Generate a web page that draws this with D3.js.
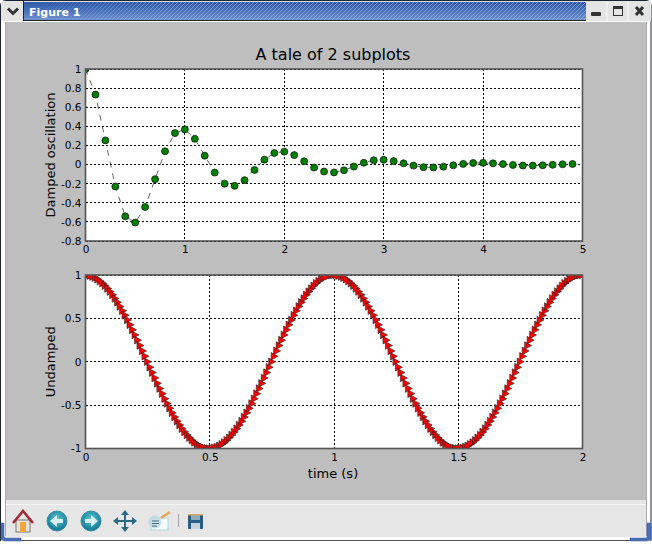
<!DOCTYPE html>
<html>
<head>
<meta charset="utf-8">
<title>Figure 1</title>
<script src="https://cdn.jsdelivr.net/npm/d3@7"></script>
<style>
html, body { margin: 0; padding: 0; background: #fff; overflow: hidden; }
svg { display: block; }
text { font-family: "DejaVu Sans", sans-serif; fill: #000; }
</style>
</head>
<body>
<div id="chart"></div>
<script>
const TITLE = 'A tale of 2 subplots';
const WINDOW_TITLE = 'Figure 1';

const dampedX = [0,0.1,0.2,0.3,0.4,0.5,0.6,0.7,0.8,0.9,1,1.1,1.2,1.3,1.4,1.5,1.6,1.7,1.8,1.9,2,2.1,2.2,2.3,2.4,2.5,2.6,2.7,2.8,2.9,3,3.1,3.2,3.3,3.4,3.5,3.6,3.7,3.8,3.9,4,4.1,4.2,4.3,4.4,4.5,4.6,4.7,4.8,4.9];
const dampedY = [1,0.732,0.253,-0.229,-0.542,-0.607,-0.444,-0.153,0.139,0.329,0.368,0.269,0.093,-0.084,-0.2,-0.223,-0.163,-0.056,0.051,0.121,0.135,0.099,0.034,-0.031,-0.073,-0.082,-0.06,-0.021,0.019,0.045,0.05,0.036,0.013,-0.011,-0.027,-0.03,-0.022,-0.008,0.007,0.016,0.018,0.013,0.005,-0.004,-0.01,-0.011,-0.008,-0.003,0.003,0.006];
const dampedXTicks = [0,1,2,3,4,5];
const dampedYTicks = [1,0.8,0.6,0.4,0.2,0,-0.2,-0.4,-0.6,-0.8];

// sampled every 0.01 s
const undampedStep = 0.01;
const undampedY = [
1,0.998,0.992,0.982,0.969,0.951,0.93,0.905,0.876,0.844,0.809,0.771,0.729,0.685,0.637,0.588,0.536,0.482,0.426,0.368,0.309,0.249,0.187,0.125,0.063,
0,-0.063,-0.125,-0.187,-0.249,-0.309,-0.368,-0.426,-0.482,-0.536,-0.588,-0.637,-0.685,-0.729,-0.771,-0.809,-0.844,-0.876,-0.905,-0.93,-0.951,-0.969,-0.982,-0.992,-0.998,
-1,-0.998,-0.992,-0.982,-0.969,-0.951,-0.93,-0.905,-0.876,-0.844,-0.809,-0.771,-0.729,-0.685,-0.637,-0.588,-0.536,-0.482,-0.426,-0.368,-0.309,-0.249,-0.187,-0.125,-0.063,
0,0.063,0.125,0.187,0.249,0.309,0.368,0.426,0.482,0.536,0.588,0.637,0.685,0.729,0.771,0.809,0.844,0.876,0.905,0.93,0.951,0.969,0.982,0.992,0.998,
1,0.998,0.992,0.982,0.969,0.951,0.93,0.905,0.876,0.844,0.809,0.771,0.729,0.685,0.637,0.588,0.536,0.482,0.426,0.368,0.309,0.249,0.187,0.125,0.063,
0,-0.063,-0.125,-0.187,-0.249,-0.309,-0.368,-0.426,-0.482,-0.536,-0.588,-0.637,-0.685,-0.729,-0.771,-0.809,-0.844,-0.876,-0.905,-0.93,-0.951,-0.969,-0.982,-0.992,-0.998,
-1,-0.998,-0.992,-0.982,-0.969,-0.951,-0.93,-0.905,-0.876,-0.844,-0.809,-0.771,-0.729,-0.685,-0.637,-0.588,-0.536,-0.482,-0.426,-0.368,-0.309,-0.249,-0.187,-0.125,-0.063,
0,0.063,0.125,0.187,0.249,0.309,0.368,0.426,0.482,0.536,0.588,0.637,0.685,0.729,0.771,0.809,0.844,0.876,0.905,0.93,0.951,0.969,0.982,0.992,0.998,
1];
const undampedXTicks = [0,0.5,1,1.5,2];
const undampedYTicks = [1,0.5,0,-0.5,-1];

// tick labels use a plain hyphen, not the typographic minus
const tickText = d => String(d);

const W = 652, H = 544;
const svg = d3.select('#chart').append('svg').attr('width', W).attr('height', H);
const defs = svg.append('defs');

drawWindow();
drawDamped();
drawUndamped();
drawToolbar();

// ── Window decoration ──
function drawWindow() {
    const grad = defs.append('linearGradient').attr('id', 'barGrad').attr('x1', 0).attr('x2', 0).attr('y1', 0).attr('y2', 1);
    grad.append('stop').attr('offset', 0).attr('stop-color', '#2f5aa8');
    grad.append('stop').attr('offset', 0.5).attr('stop-color', '#4a72bd');
    grad.append('stop').attr('offset', 1).attr('stop-color', '#6f93d0');

    const hatch = defs.append('pattern').attr('id', 'barHatch').attr('width', 4).attr('height', 4)
        .attr('patternUnits', 'userSpaceOnUse');
    hatch.append('path').attr('d', 'M-1,1 L1,-1 M0,4 L4,0 M3,5 L5,3')
        .attr('stroke', '#a8bde0').attr('stroke-width', 1).attr('stroke-opacity', 0.55);

    const fade = defs.append('linearGradient').attr('id', 'hatchFade');
    fade.append('stop').attr('offset', 0).attr('stop-color', '#fff').attr('stop-opacity', 0);
    fade.append('stop').attr('offset', 0.25).attr('stop-color', '#fff').attr('stop-opacity', 1);
    defs.append('mask').attr('id', 'hatchMask').attr('maskUnits', 'userSpaceOnUse')
        .attr('x', 0).attr('y', 0).attr('width', W).attr('height', 22)
        .append('rect').attr('x', 24).attr('y', 0).attr('width', 562).attr('height', 22).attr('fill', 'url(#hatchFade)');

    svg.append('rect').attr('width', W).attr('height', H).attr('fill', '#fff');
    svg.append('path').attr('d', `M0.5,${H - 3} L0.5,6 Q0.5,0.5 6,0.5 L${W - 6},0.5 Q${W - 1},0.5 ${W - 1},6 L${W - 1},${H - 3}`)
        .attr('fill', 'none').attr('stroke', '#1c2433').attr('stroke-width', 1);

    // title bar
    svg.append('rect').attr('x', 1).attr('y', 1).attr('width', W - 2).attr('height', 20).attr('fill', '#e4e4e4');
    svg.append('rect').attr('x', 24).attr('y', 2).attr('width', 562).attr('height', 18).attr('fill', 'url(#barGrad)');
    svg.append('rect').attr('x', 24).attr('y', 2).attr('width', 562).attr('height', 18)
        .attr('fill', 'url(#barHatch)').attr('mask', 'url(#hatchMask)');
    svg.append('line').attr('x1', 23.5).attr('x2', 23.5).attr('y1', 1).attr('y2', 21).attr('stroke', '#222');
    svg.append('line').attr('x1', 24).attr('x2', 586).attr('y1', 20.5).attr('y2', 20.5).attr('stroke', '#222');
    svg.append('text').attr('x', 29).attr('y', 16).text(WINDOW_TITLE)
        .style('font-size', '11px').style('font-weight', 700).style('fill', '#fff');

    // window menu and min / max / close buttons
    svg.append('path').attr('d', 'M8,8.5 L13,13.5 L18,8.5').attr('fill', 'none')
        .attr('stroke', '#333').attr('stroke-width', 3);
    [607, 628].forEach(x => svg.append('line').attr('x1', x).attr('x2', x).attr('y1', 1).attr('y2', 21).attr('stroke', '#f8f8f8'));
    svg.append('rect').attr('x', 591).attr('y', 12).attr('width', 10).attr('height', 4).attr('rx', 1).attr('fill', '#333');
    svg.append('rect').attr('x', 613.5).attr('y', 6.5).attr('width', 9).attr('height', 9).attr('fill', 'none').attr('stroke', '#333');
    svg.append('rect').attr('x', 613).attr('y', 6).attr('width', 10).attr('height', 3).attr('fill', '#333');
    svg.append('path').attr('d', 'M636,7 L643,15 M643,7 L636,15').attr('stroke', '#333').attr('stroke-width', 3);

    // figure canvas
    svg.append('rect').attr('x', 6).attr('y', 22).attr('width', 640).attr('height', 478).attr('fill', '#bebebe');
    svg.append('line').attr('x1', 5.5).attr('x2', 5.5).attr('y1', 22).attr('y2', 536).attr('stroke', '#ababab');
    svg.append('line').attr('x1', 646.5).attr('x2', 646.5).attr('y1', 22).attr('y2', 536).attr('stroke', '#ababab');

    // corner handles
    svg.append('path').attr('d', `M1,523 L1,538 Q1,541 6,541 L21,541 L21,538 L6,538 Q4,538 4,536 L4,523 Z`)
        .attr('fill', '#4a6fb8').attr('stroke', '#3a5a98').attr('stroke-width', 0.5);
    svg.append('path').attr('d', `M${W - 1},523 L${W - 1},538 Q${W - 1},541 ${W - 6},541 L${W - 22},541 L${W - 22},538 L${W - 6},538 Q${W - 5},538 ${W - 5},536 L${W - 5},523 Z`)
        .attr('fill', '#4a6fb8').attr('stroke', '#3a5a98').attr('stroke-width', 0.5);
    svg.append('line').attr('x1', 21).attr('x2', W - 22).attr('y1', 540.5).attr('y2', 540.5).attr('stroke', '#555');
    svg.append('rect').attr('x', 0).attr('y', 542).attr('width', W).attr('height', 2).attr('fill', '#fff');
}

// ── Shared axes box ──
function drawFrame(id, x, y, xTicks, yTicks, yLabel) {
    const [x0, x1] = x.range();
    const [y1, y0] = y.range();

    svg.append('rect').attr('x', x0).attr('y', y0).attr('width', x1 - x0).attr('height', y1 - y0).attr('fill', '#fff');
    defs.append('clipPath').attr('id', id).append('rect')
        .attr('x', x0).attr('y', y0).attr('width', x1 - x0).attr('height', y1 - y0);

    const grid = svg.append('g').attr('stroke', '#000').attr('stroke-width', 1).attr('stroke-dasharray', '2,2').attr('shape-rendering', 'crispEdges');
    xTicks.forEach(t => grid.append('line').attr('x1', x(t)).attr('x2', x(t)).attr('y1', y0).attr('y2', y1));
    yTicks.forEach(t => grid.append('line').attr('x1', x0).attr('x2', x1).attr('y1', y(t)).attr('y2', y(t)));

    svg.append('text').attr('transform', 'rotate(-90)')
        .attr('x', -(y0 + y1) / 2).attr('y', 55)
        .attr('text-anchor', 'middle').style('font-size', '13px').text(yLabel);

    const xAxis = svg.append('g').attr('transform', `translate(0,${y1})`)
        .call(d3.axisBottom(x).tickValues(xTicks).tickSize(0).tickPadding(5).tickFormat(tickText));
    const yAxis = svg.append('g').attr('transform', `translate(${x0},0)`)
        .call(d3.axisLeft(y).tickValues(yTicks).tickSize(0).tickPadding(4).tickFormat(tickText));
    [xAxis, yAxis].forEach(a => {
        a.select('.domain').remove();
        a.selectAll('text').style('font-family', '"DejaVu Sans", sans-serif').style('font-size', '10.5px');
    });
}

function drawBorder(x, y) {
    const [x0, x1] = x.range();
    const [y1, y0] = y.range();
    svg.append('rect').attr('x', x0).attr('y', y0).attr('width', x1 - x0).attr('height', y1 - y0)
        .attr('fill', 'none').attr('stroke', '#555').attr('stroke-width', 1.6);
}

// ── Damped oscillation ──
function drawDamped() {
    const x = d3.scaleLinear().domain([0, 5]).range([85.5, 582.5]);
    const y = d3.scaleLinear().domain([-0.8, 1]).range([241, 69]);
    drawFrame('clipDamped', x, y, dampedXTicks, dampedYTicks, 'Damped oscillation');

    svg.append('text').attr('x', 333).attr('y', 60).attr('text-anchor', 'middle')
        .style('font-size', '16px').text(TITLE);

    const plot = svg.append('g').attr('clip-path', 'url(#clipDamped)');
    const line = d3.line().x((d, i) => x(dampedX[i])).y(d => y(d));
    plot.append('path').attr('d', line(dampedY)).attr('fill', 'none')
        .attr('stroke', '#222').attr('stroke-width', 0.7).attr('stroke-dasharray', '6,6');
    plot.selectAll('circle').data(dampedY).enter().append('circle')
        .attr('cx', (d, i) => x(dampedX[i])).attr('cy', d => y(d)).attr('r', 3.5)
        .attr('fill', '#008000').attr('stroke', '#111').attr('stroke-width', 0.7);

    drawBorder(x, y);
}

// ── Undamped ──
function drawUndamped() {
    const x = d3.scaleLinear().domain([0, 2]).range([85.5, 582.5]);
    const y = d3.scaleLinear().domain([-1, 1]).range([448.5, 275]);
    drawFrame('clipUndamped', x, y, undampedXTicks, undampedYTicks, 'Undamped');

    svg.append('text').attr('x', 333).attr('y', 478).attr('text-anchor', 'middle')
        .style('font-size', '13px').text('time (s)');

    const plot = svg.append('g').attr('clip-path', 'url(#clipUndamped)');
    const tri = 'M-3.2,-3.8 L3.8,0 L-3.2,3.8 Z';
    plot.selectAll('path').data(undampedY).enter().append('path')
        .attr('d', tri)
        .attr('transform', (d, i) => `translate(${x(i * undampedStep)},${y(d)})`)
        .attr('fill', '#f00').attr('stroke', '#222').attr('stroke-width', 0.6);

    drawBorder(x, y);
}

// ── Toolbar ──
function drawToolbar() {
    svg.append('rect').attr('x', 6).attr('y', 500).attr('width', 640).attr('height', 37).attr('fill', '#e6e6e6');
    svg.append('line').attr('x1', 6).attr('x2', 646).attr('y1', 504.5).attr('y2', 504.5).attr('stroke', '#f4f4f4');

    const g = svg.append('g');
    // home
    g.append('rect').attr('x', 16).attr('y', 520).attr('width', 14).attr('height', 12).attr('fill', '#e8e4dc').attr('stroke', '#777');
    g.append('rect').attr('x', 20).attr('y', 522).attr('width', 6).attr('height', 10).attr('fill', '#f0a840');
    g.append('path').attr('d', 'M13,523 L23,511 L33,523').attr('fill', 'none').attr('stroke', '#a02838').attr('stroke-width', 2.6);

    // back / forward
    const ball = defs.append('radialGradient').attr('id', 'ball').attr('cx', 0.5).attr('cy', 0.4).attr('r', 0.6);
    ball.append('stop').attr('offset', 0).attr('stop-color', '#5cc8d8');
    ball.append('stop').attr('offset', 1).attr('stop-color', '#0f7490');
    [57, 91].forEach(cx => g.append('circle').attr('cx', cx).attr('cy', 521).attr('r', 10).attr('fill', 'url(#ball)').attr('stroke', '#3b8ca4'));
    g.append('path').attr('d', 'M50,521 L57,515 L57,519 L63,519 L63,523 L57,523 L57,527 Z').attr('fill', '#d8f0f4');
    g.append('path').attr('d', 'M98,521 L91,515 L91,519 L85,519 L85,523 L91,523 L91,527 Z').attr('fill', '#d8f0f4');

    // pan
    g.append('path').attr('d', 'M125,512 L125,530 M115,521 L135,521').attr('stroke', '#2a6a88').attr('stroke-width', 2);
    g.append('path').attr('d', 'M125,510 L121,515 L129,515 Z M125,532 L121,527 L129,527 Z M113,521 L118,517 L118,525 Z M137,521 L132,517 L132,525 Z').attr('fill', '#2a6a88');

    // subplots
    g.append('rect').attr('x', 151).attr('y', 518).attr('width', 17).attr('height', 12).attr('fill', '#f4fafc').attr('stroke', '#a8d8e4');
    g.append('circle').attr('cx', 155).attr('cy', 522).attr('r', 6.5).attr('fill', '#bcd8e4').attr('opacity', 0.8);
    g.append('path').attr('d', 'M152,521 L159,521 M152,523.5 L159,523.5 M152,526 L157,526').attr('stroke', '#4a6a80');
    g.append('line').attr('x1', 161).attr('y1', 518).attr('x2', 170).attr('y2', 512).attr('stroke', '#e8a858').attr('stroke-width', 2.6);

    // separator
    g.append('line').attr('x1', 178.5).attr('x2', 178.5).attr('y1', 514).attr('y2', 527).attr('stroke', '#a8a8a8');

    // save
    g.append('rect').attr('x', 188).attr('y', 514).attr('width', 15).attr('height', 15).attr('rx', 1).attr('fill', '#2a5c84');
    g.append('rect').attr('x', 191).attr('y', 514).attr('width', 9).attr('height', 6).attr('fill', '#8fa8bc');
    g.append('rect').attr('x', 191).attr('y', 523).attr('width', 9).attr('height', 6).attr('fill', '#c8d4dc');
    g.append('rect').attr('x', 188).attr('y', 514).attr('width', 15).attr('height', 1.5).attr('fill', '#d8a860');
}
</script>
</body>
</html>
